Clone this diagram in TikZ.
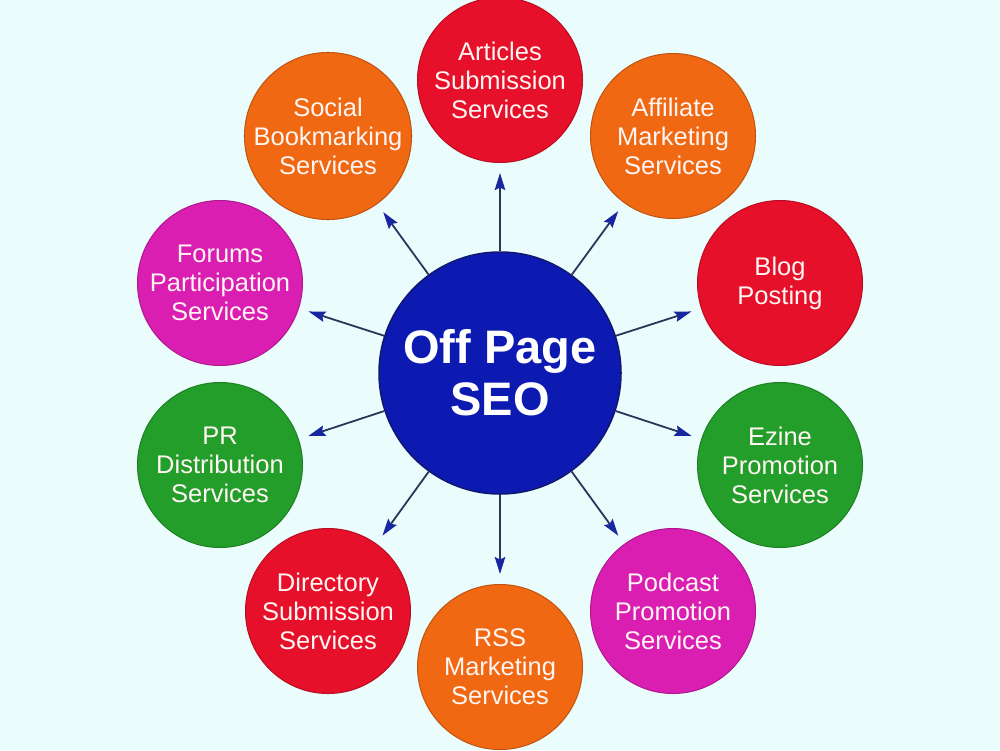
\documentclass[tikz,border=0pt]{standalone}
\usepackage{fontspec}
\setmainfont{Liberation Sans}
\usetikzlibrary{arrows.meta}
\definecolor{bgcol}{RGB}{234,252,251}
\definecolor{hubblue}{RGB}{12,26,178}
\definecolor{hubedge}{RGB}{16,24,110}
\definecolor{cred}{RGB}{230,16,42}
\definecolor{corange}{RGB}{240,104,18}
\definecolor{cmagenta}{RGB}{218,30,178}
\definecolor{cgreen}{RGB}{36,158,42}
\definecolor{linenavy}{RGB}{44,54,92}
\definecolor{tipblue}{RGB}{24,38,160}
\definecolor{txtwhite}{RGB}{255,246,244}
\tikzset{
  hub/.style={circle, fill=hubblue, draw=hubedge, line width=1.5pt, minimum size=242pt, inner sep=0pt,
    text=white, align=center, font=\bfseries\fontsize{47}{52}\selectfont},
  leaf/.style={circle, fill=#1, draw=#1!80!black, line width=1pt, minimum size=165pt, inner sep=0pt,
    text=txtwhite, align=center, font=\fontsize{25.5}{29}\selectfont},
  arr/.style={draw=linenavy, line width=1.8pt, shorten >=10pt,
    -{Stealth[length=17pt,width=10.5pt,inset=2.5pt,color=tipblue]}}
}
\begin{document}
\begin{tikzpicture}[x=1pt,y=-1pt]
\fill[bgcol] (0,0) rectangle (1000,750);
\useasboundingbox (0,0) rectangle (1000,750);
\node[hub] (c) at (500,373) {Off Page\\SEO};
\node[leaf=cred]     (n1)  at (500,80)  {Articles\\Submission\\Services};
\node[leaf=corange]  (n2)  at (673,136) {Affiliate\\Marketing\\Services};
\node[leaf=cred]     (n3)  at (780,283) {Blog\\Posting};
\node[leaf=cgreen]   (n4)  at (780,465) {Ezine\\Promotion\\Services};
\node[leaf=cmagenta] (n5)  at (673,611) {Podcast\\Promotion\\Services};
\node[leaf=corange]  (n6)  at (500,667) {RSS\\Marketing\\Services};
\node[leaf=cred]     (n7)  at (328,611) {Directory\\Submission\\Services};
\node[leaf=cgreen]   (n8)  at (220,465) {PR\\Distribution\\Services};
\node[leaf=cmagenta] (n9)  at (220,283) {Forums\\Participation\\Services};
\node[leaf=corange]  (n10) at (328,136) {Social\\Bookmarking\\Services};
\foreach \n in {n1,n2,n3,n4,n5,n6,n7,n8,n9,n10}
  \draw[arr] (c) -- (\n);
\end{tikzpicture}
\end{document}
